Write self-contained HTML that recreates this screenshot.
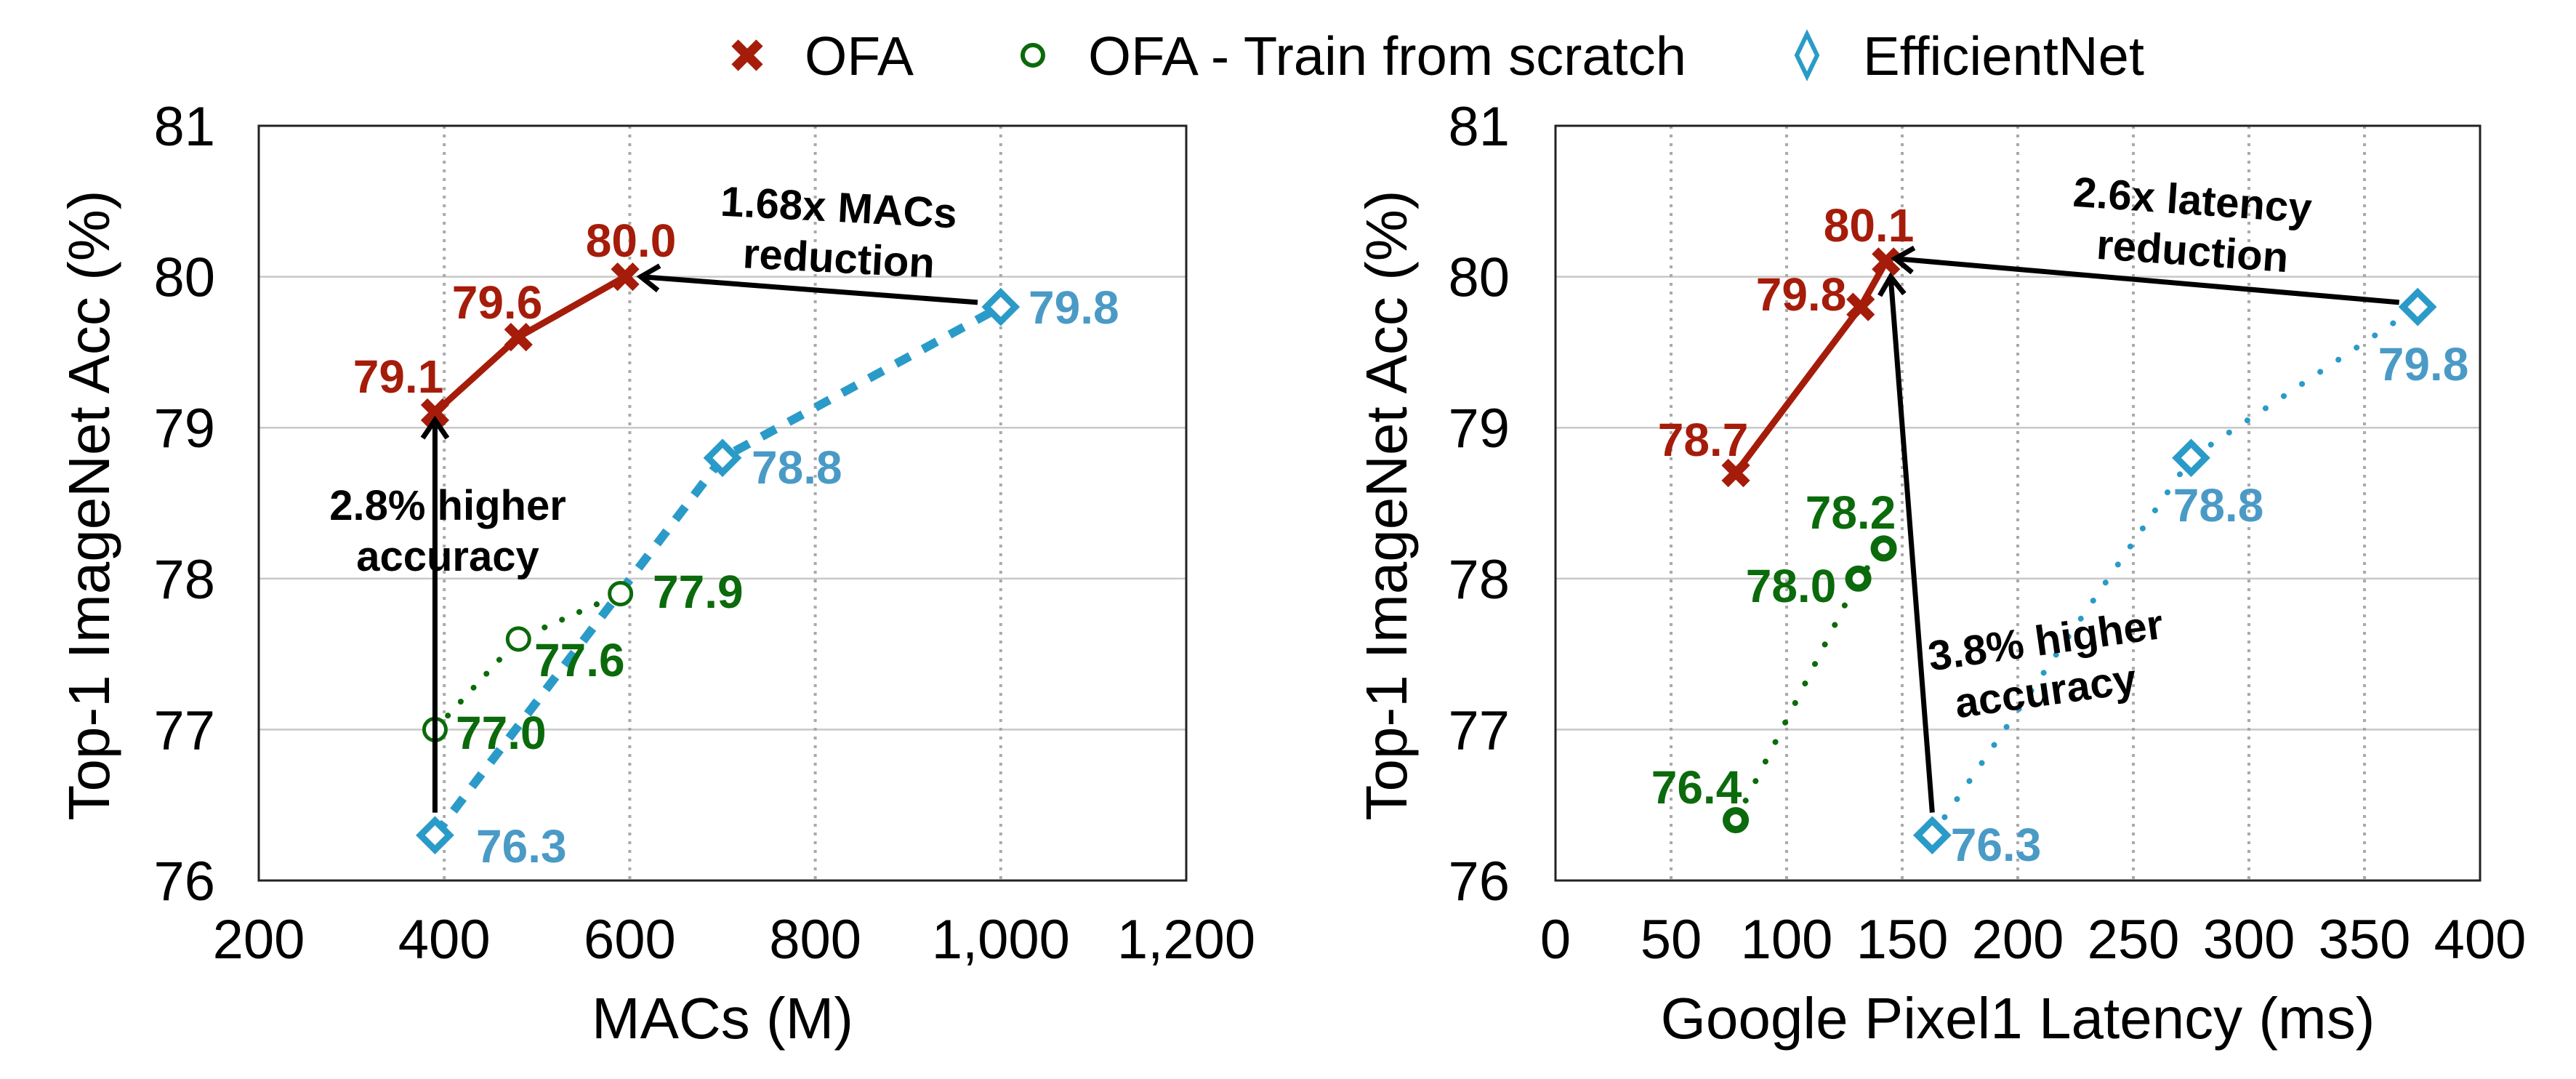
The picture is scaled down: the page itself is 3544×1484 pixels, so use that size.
<!DOCTYPE html>
<html><head><meta charset="utf-8"><style>
html,body{margin:0;padding:0;background:#fff}
svg{display:block}
text{font-family:"Liberation Sans",sans-serif}
</style></head><body>
<svg id="s" width="3544" height="1484" viewBox="0 0 3544 1484" xmlns="http://www.w3.org/2000/svg"></svg>
<script>
const s=document.getElementById('s');let h='';
const RED='#a51c0a',GRN='#0b6a0b',BLU='#2a9bc8',BLT='#4a9ac6';
const T=173,B=1211,yv=v=>T+(81-v)*(B-T)/5;
function plot(L,R,x0,x1,xt,xlabels,xt_lab,ytx,title,ttx){
  const xs=v=>L+(v-x0)*(R-L)/(x1-x0);
  for(let v=77;v<=80;v++)h+=`<line x1="${L}" x2="${R}" y1="${yv(v)}" y2="${yv(v)}" stroke="#c8c8c8" stroke-width="2.5"/>`;
  xt.forEach(v=>h+=`<line x1="${xs(v)}" x2="${xs(v)}" y1="${T}" y2="${B}" stroke="#aaa" stroke-width="4" stroke-dasharray="4,8"/>`);
  h+=`<rect x="${L}" y="${T}" width="${R-L}" height="${B-T}" fill="none" stroke="#222" stroke-width="3"/>`;
  for(let v=76;v<=81;v++)h+=`<text x="${ytx}" y="${yv(v)+27}" font-size="76" text-anchor="end">${v}</text>`;
  xlabels.forEach((v,i)=>h+=`<text x="${xs(v)}" y="1318" font-size="76" text-anchor="middle">${xt_lab[i]}</text>`);
  h+=`<text x="${(L+R)/2}" y="1428" font-size="80" text-anchor="middle">${title}</text>`;
  h+=`<text transform="translate(${ttx},695) rotate(-90)" font-size="80" text-anchor="middle">Top-1 ImageNet Acc (%)</text>`;
  return xs;
}
function pts(xs,d){return d.map(p=>xs(p[0])+','+yv(p[1])).join(' ')}
function xm(x,y,c,k){k=k||15;h+=`<g stroke="${c}" stroke-width="13"><line x1="${x-k}" y1="${y-k}" x2="${x+k}" y2="${y+k}"/><line x1="${x-k}" y1="${y+k}" x2="${x+k}" y2="${y-k}"/></g>`}
function cm(x,y,r,w){h+=`<circle cx="${x}" cy="${y}" r="${r}" fill="#fff" stroke="${GRN}" stroke-width="${w}"/>`}
function dm(x,y){h+=`<polygon points="${x},${y-20} ${x+20},${y} ${x},${y+20} ${x-20},${y}" fill="#fff" stroke="${BLU}" stroke-width="9"/>`}
function lab(x,y,t,c,a){h+=`<text x="${x}" y="${y+22}" font-size="64" font-weight="bold" fill="${c}" text-anchor="${a||'middle'}">${t}</text>`}
function arrow(x1,y1,x2,y2){
  h+=`<line x1="${x1}" y1="${y1}" x2="${x2}" y2="${y2}" stroke="#000" stroke-width="7"/>`;
  const a=Math.atan2(y2-y1,x2-x1),l=30;
  const p=k=>[x2-l*Math.cos(a+k),y2-l*Math.sin(a+k)];
  const [ax,ay]=p(0.6),[bx,by]=p(-0.6);
  h+=`<polyline points="${ax},${ay} ${x2},${y2} ${bx},${by}" fill="none" stroke="#000" stroke-width="7"/>`;
}
function ann(x,y,rot,lines){lines.forEach((t,i)=>h+=`<text transform="translate(${x},${y+i*70}) rotate(${rot})" font-size="58" font-weight="bold" text-anchor="middle">${t}</text>`)}

let xs=plot(356,1632,200,1200,[400,600,800,1000],[200,400,600,800,1000,1200],['200','400','600','800','1,000','1,200'],296,'MACs (M)',150);
let ofa=[[390,79.1],[480,79.6],[595,80.0]],sc=[[390,77.0],[480,77.6],[590,77.9]],ef=[[390,76.3],[700,78.8],[1000,79.8]];
h+=`<polyline points="${pts(xs,ef)}" fill="none" stroke="${BLU}" stroke-width="12" stroke-dasharray="22,20"/>`;
h+=`<polyline points="${pts(xs,sc)}" fill="none" stroke="${GRN}" stroke-width="8" stroke-linecap="round" stroke-dasharray="0.1,26"/>`;
h+=`<polyline points="${pts(xs,ofa)}" fill="none" stroke="${RED}" stroke-width="9"/>`;
ofa.forEach(p=>xm(xs(p[0]),yv(p[1]),RED));sc.forEach(p=>cm(xs(p[0]),yv(p[1]),15,5));ef.forEach(p=>dm(xs(p[0]),yv(p[1])));
arrow(xs(390),yv(76.45),xs(390),yv(79.05));
arrow(1345,yv(79.83),xs(612),yv(80.0));
lab(548,518,'79.1',RED);lab(684,416,'79.6',RED);lab(868,331,'80.0',RED);
lab(1415,423,'79.8',BLT,'start');lab(1034,643,'78.8',BLT,'start');lab(655,1164,'76.3',BLT,'start');
lab(898,814,'77.9',GRN,'start');lab(735,908,'77.6',GRN,'start');lab(627,1008,'77.0',GRN,'start');
ann(1153,305,3,['1.68x MACs','reduction']);
ann(616,715,0,['2.8% higher','accuracy']);

xs=plot(2140,3412,0,400,[50,100,150,200,250,300,350],[0,50,100,150,200,250,300,350,400],['0','50','100','150','200','250','300','350','400'],2077,'Google Pixel1 Latency (ms)',1935);
ofa=[[78,78.7],[132,79.8],[143,80.1]];sc=[[78,76.4],[131,78.0],[142,78.2]];ef=[[163,76.3],[275,78.8],[373,79.8]];
h+=`<polyline points="${pts(xs,ef)}" fill="none" stroke="${BLU}" stroke-width="8" stroke-linecap="round" stroke-dasharray="0.1,30"/>`;
h+=`<polyline points="${pts(xs,sc)}" fill="none" stroke="${GRN}" stroke-width="8" stroke-linecap="round" stroke-dasharray="0.1,30"/>`;
h+=`<polyline points="${pts(xs,ofa)}" fill="none" stroke="${RED}" stroke-width="9"/>`;
ofa.forEach(p=>xm(xs(p[0]),yv(p[1]),RED));sc.forEach(p=>cm(xs(p[0]),yv(p[1]),13,10));ef.forEach(p=>dm(xs(p[0]),yv(p[1])));
arrow(xs(163),yv(76.45),xs(145),yv(80.0));
arrow(xs(365),yv(79.83),xs(147),yv(80.12));
lab(2571,310,'80.1',RED);lab(2478,405,'79.8',RED);lab(2343,605,'78.7',RED);
lab(2546,705,'78.2',GRN);lab(2464,806,'78.0',GRN);lab(2334,1083,'76.4',GRN);
lab(3334,501,'79.8',BLT);lab(3052,695,'78.8',BLT);lab(2746,1162,'76.3',BLT);
ann(3015,295,4,['2.6x latency','reduction']);
ann(2817,900,-8,['3.8% higher','accuracy']);

xm(1028,76,RED,17);
h+=`<text x="1107" y="103" font-size="75" textLength="150" lengthAdjust="spacingAndGlyphs">OFA</text>`;
cm(1421,76,14,6);
h+=`<text x="1497" y="103" font-size="75" textLength="823" lengthAdjust="spacingAndGlyphs">OFA - Train from scratch</text>`;
h+=`<polygon points="2486,47 2500,76 2486,105 2472,76" fill="#fff" stroke="${BLU}" stroke-width="6"/>`;
h+=`<text x="2563" y="103" font-size="75" textLength="387" lengthAdjust="spacingAndGlyphs">EfficientNet</text>`;
s.innerHTML=h;
</script>
</body></html>
